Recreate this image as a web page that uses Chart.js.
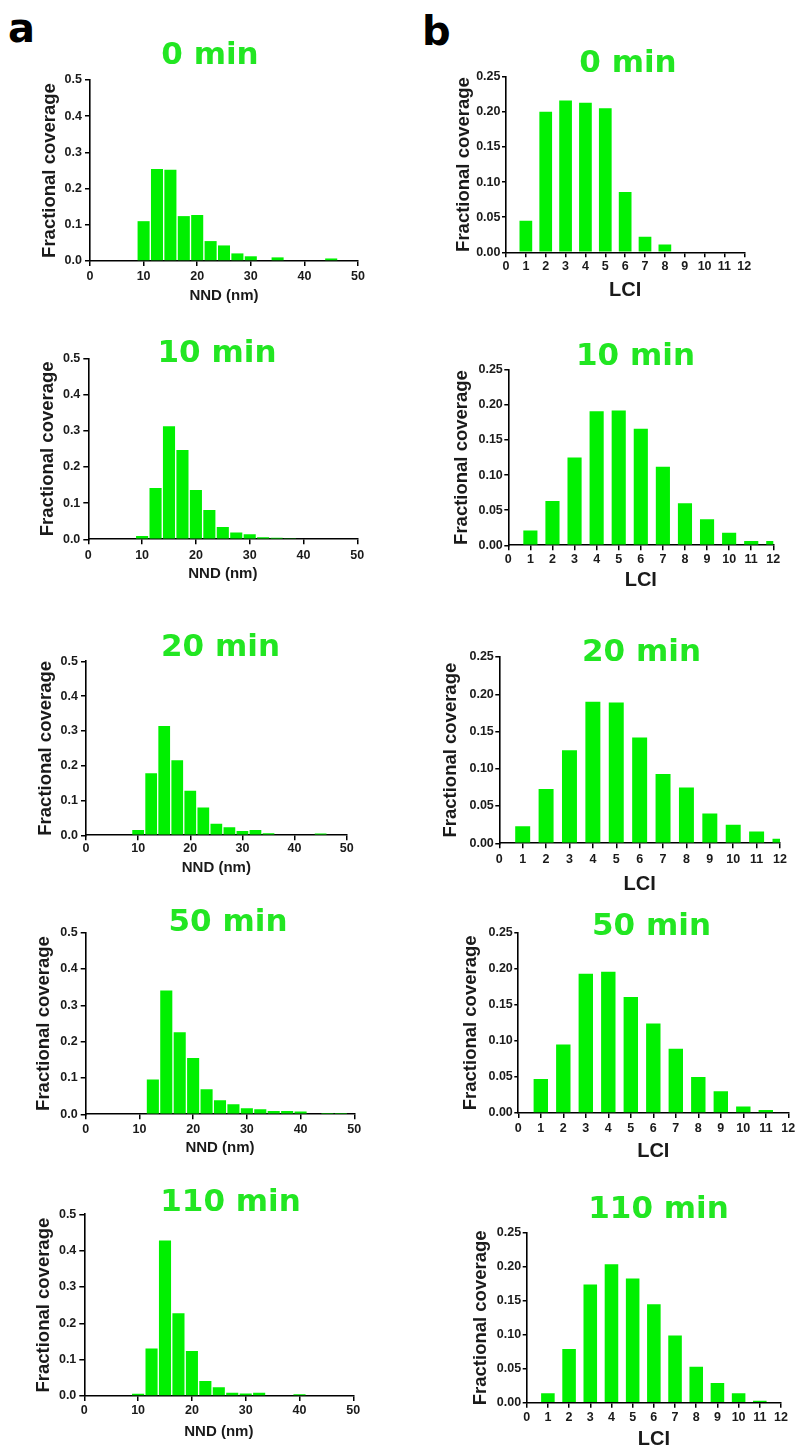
<!DOCTYPE html>
<html><head><meta charset="utf-8">
<script src="https://cdn.jsdelivr.net/npm/chart.js@4.4.0/dist/chart.umd.min.js"></script>
<style>
html,body{margin:0;padding:0;background:#fff;width:799px;height:1448px;overflow:hidden;position:relative}
canvas{position:absolute}
.ttl{position:absolute;width:240px;text-align:center;font-family:"DejaVu Sans";font-weight:bold;font-size:31px;line-height:31px;color:#22e622;white-space:nowrap}
.lbl{position:absolute;font-family:"DejaVu Sans";font-weight:bold;font-size:40px;line-height:40px;color:#000}
</style></head><body>
<div class="lbl" style="left:8px;top:8px">a</div>
<div class="lbl" style="left:422px;top:11px">b</div>
<script>
// ---------- data ----------
const timeLabels = ['0 min', '10 min', '20 min', '50 min', '110 min'];
const nndBins = [10, 12.5, 15, 17.5, 20, 22.5, 25, 27.5, 30, 32.5, 35, 37.5, 40, 42.5, 45, 47.5];
const nnd0   = [0.110, 0.254, 0.252, 0.124, 0.127, 0.055, 0.043, 0.021, 0.013, 0, 0.010, 0, 0, 0, 0.007, 0];
const nnd10  = [0.009, 0.142, 0.312, 0.247, 0.136, 0.081, 0.034, 0.019, 0.014, 0.006, 0.004, 0.003, 0.002, 0, 0, 0];
const nnd20  = [0.015, 0.178, 0.314, 0.216, 0.128, 0.080, 0.033, 0.023, 0.012, 0.015, 0.006, 0, 0, 0, 0.005, 0];
const nnd50  = [0, 0.096, 0.341, 0.226, 0.155, 0.069, 0.039, 0.028, 0.017, 0.014, 0.009, 0.009, 0.008, 0.002, 0.001, 0.001];
const nnd110 = [0.006, 0.131, 0.428, 0.228, 0.124, 0.041, 0.024, 0.009, 0.007, 0.009, 0.002, 0.002, 0.005, 0, 0, 0];

const lciBins = [1, 2, 3, 4, 5, 6, 7, 8, 9, 10, 11, 12];
const lci0   = [0.045, 0.200, 0.216, 0.213, 0.205, 0.086, 0.022, 0.011, 0, 0, 0, 0];
const lci10  = [0.021, 0.063, 0.125, 0.191, 0.192, 0.166, 0.112, 0.060, 0.037, 0.018, 0.006, 0.006];
const lci20  = [0.023, 0.073, 0.125, 0.190, 0.189, 0.142, 0.093, 0.075, 0.040, 0.025, 0.016, 0.006];
const lci50  = [0.047, 0.095, 0.193, 0.196, 0.161, 0.124, 0.089, 0.050, 0.030, 0.009, 0.004, 0];
const lci110 = [0.014, 0.079, 0.174, 0.204, 0.183, 0.145, 0.099, 0.053, 0.029, 0.014, 0.003, 0];

const nndSeries = [nnd0, nnd10, nnd20, nnd50, nnd110];
const lciSeries = [lci0, lci10, lci20, lci50, lci110];

const yLabel = 'Fractional coverage';
const nndLabel = 'NND (nm)';
const lciLabel = 'LCI';

// ---------- panel geometry (plot-area frames) ----------
const frames = [
  {L:90,   T:80,    R:358,   B:261,    yT:50,    xTk:277,    xTt:296,    tx:210,   ty:52.5},
  {L:88.3, T:358.3, R:357.3, B:539.3,  yT:48,    xTk:555.7,  xTt:574,    tx:217,   ty:351},
  {L:86,   T:661.3, R:346.7, B:835.3,  yT:46,    xTk:849,    xTt:868,    tx:220.5, ty:644.5},
  {L:85.7, T:932.7, R:354.3, B:1114.3, yT:44,    xTk:1129.3, xTt:1148.3, tx:228,   ty:920},
  {L:84.3, T:1214.3,R:353.3, B:1396,   yT:44,    xTk:1410.7, xTt:1431.7, tx:230.5, ty:1200},
  {L:506,  T:76.7,  R:744.3, B:252.3,  yT:463.7, xTk:266.7,  xTt:290,    tx:628,   ty:61},
  {L:508.3,T:369.7, R:773.3, B:545.3,  yT:462,   xTk:560,    xTt:580,    tx:635.5, ty:353.5},
  {L:499.3,T:657,   R:780,   B:843.3,  yT:451,   xTk:859.3,  xTt:884.5,  tx:641.5, ty:650},
  {L:518.3,T:932.7, R:788.3, B:1113,   yT:470.5, xTk:1129,   xTt:1151.5, tx:651.5, ty:924},
  {L:526.7,T:1233,  R:781,   B:1402.7, yT:480.5, xTk:1417.3, xTt:1439,   tx:658.5, ty:1206.5}
];

const BAR = '#00f000';
const TXT = '#1a1a1a';
const tickFont = {family:'Liberation Sans', weight:'bold', size:12.5};

function build(idx) {
  const isA = idx < 5;
  const k = idx % 5;
  const g = frames[idx];
  const bins = isA ? nndBins : lciBins;
  const vals = isA ? nndSeries[k] : lciSeries[k];
  const xTitleSize = isA ? 15 : 20;
  const yTitleSize = 18.5;
  const yTickLen = isA ? 5 : 4;
  const yTickPad = isA ? 3 : 1.5;
  const xTickLen = 5;

  const cl = Math.round(g.yT - 12);
  const ct = Math.round(g.T - 12);
  const w = Math.ceil(g.R + 12 - cl);
  const h = Math.ceil(g.xTt + xTitleSize * 0.6 + 3 - ct);
  const padTop = g.T - ct;
  const padRight = w - (g.R - cl);
  const Wy = g.L - cl;
  const Hx = h - (g.B - ct);
  const yTitlePad = (g.yT - cl) - yTitleSize * 1.2 / 2;
  const xTickPad = (g.xTk - g.B) - xTickLen - tickFont.size * 1.2 / 2;
  const xTitlePadB = (ct + h) - g.xTt - xTitleSize * 1.2 / 2;

  const cv = document.createElement('canvas');
  cv.width = w; cv.height = h;
  cv.style.left = cl + 'px'; cv.style.top = ct + 'px';
  document.body.appendChild(cv);

  const t = document.createElement('div');
  t.className = 'ttl';
  t.textContent = timeLabels[k];
  t.style.left = (g.tx - 120) + 'px';
  t.style.top = (g.ty - 14.9) + 'px';
  document.body.appendChild(t);

  new Chart(cv, {
    type: 'bar',
    data: {
      datasets: [{
        data: bins.map((b, i) => ({x: b, y: vals[i]})),
        backgroundColor: BAR,
        borderWidth: 0,
        barPercentage: isA ? 0.9 : 0.64,
        categoryPercentage: 1,
        clip: 0
      }]
    },
    options: {
      responsive: false,
      animation: false,
      devicePixelRatio: 1,
      layout: {padding: {top: padTop, right: padRight, left: 0, bottom: 0}},
      plugins: {legend: {display: false}, tooltip: {enabled: false}, title: {display: false}},
      scales: {
        x: {
          type: 'linear',
          offset: false,
          min: 0,
          max: isA ? 50 : 12,
          afterFit: s => { s.height = Hx; },
          grid: {display: true, drawOnChartArea: false, drawTicks: true, tickLength: xTickLen, color: '#000', lineWidth: 1.5, offset: false},
          border: {display: true, color: '#000', width: 1.6},
          ticks: {stepSize: isA ? 10 : 1, autoSkip: false, maxRotation: 0, minRotation: 0, padding: xTickPad,
                  color: TXT, font: tickFont, callback: v => String(v)},
          title: {display: true, text: isA ? nndLabel : lciLabel, color: TXT,
                  font: {family: 'Liberation Sans', weight: 'bold', size: xTitleSize},
                  padding: {top: 0, bottom: xTitlePadB}}
        },
        y: {
          type: 'linear',
          min: 0,
          max: isA ? 0.5 : 0.25,
          afterFit: s => { s.width = Wy; },
          grid: {display: true, drawOnChartArea: false, drawTicks: true, tickLength: yTickLen, color: '#000', lineWidth: 1.5},
          border: {display: true, color: '#000', width: 1.6},
          ticks: {stepSize: isA ? 0.1 : 0.05, padding: yTickPad, color: TXT, font: tickFont,
                  callback: v => v.toFixed(isA ? 1 : 2)},
          title: {display: true, text: yLabel, color: TXT,
                  font: {family: 'Liberation Sans', weight: 'bold', size: yTitleSize},
                  padding: {top: yTitlePad, bottom: 0}}
        }
      }
    }
  });
}

for (let i = 0; i < 10; i++) build(i);
</script>
</body></html>
